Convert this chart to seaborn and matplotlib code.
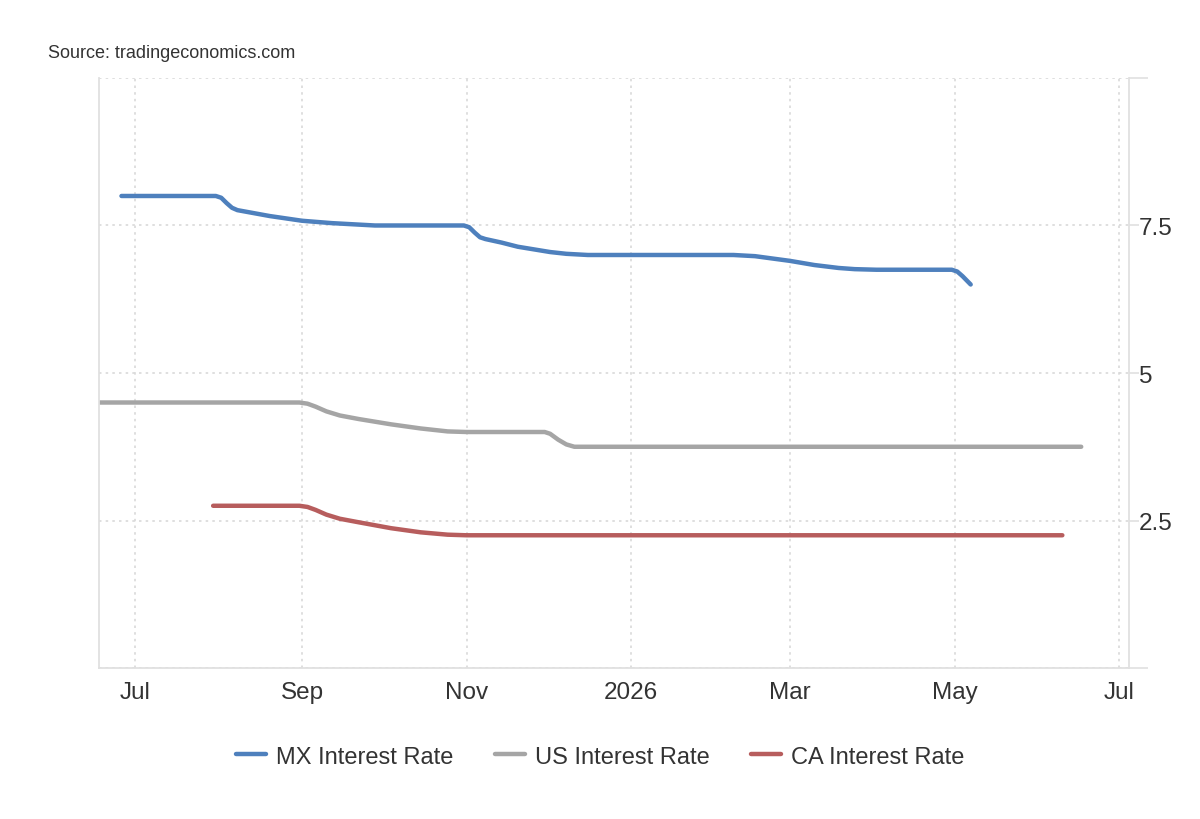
import matplotlib
matplotlib.use("Agg")
import matplotlib.pyplot as plt
import matplotlib.dates as mdates
from matplotlib.ticker import FixedLocator, FuncFormatter
import pandas as pd
import seaborn as sns

# values
mx_dates = ["2025-06-26", "2025-07-31", "2025-08-02", "2025-08-04", "2025-08-06",
            "2025-08-08", "2025-08-20", "2025-09-01", "2025-09-12", "2025-09-20",
            "2025-09-28", "2025-10-31", "2025-11-02", "2025-11-04", "2025-11-06",
            "2025-11-08", "2025-11-14", "2025-11-20", "2025-12-02", "2025-12-08",
            "2025-12-16", "2026-02-08", "2026-02-16", "2026-03-01", "2026-03-10",
            "2026-03-19", "2026-03-25", "2026-04-02", "2026-04-30", "2026-05-02",
            "2026-05-04", "2026-05-07"]
mx_values = [8.0, 8.0, 7.97, 7.88, 7.8,
             7.76, 7.66, 7.58, 7.54, 7.52,
             7.5, 7.5, 7.47, 7.38, 7.3,
             7.27, 7.21, 7.14, 7.05, 7.02,
             7.0, 7.0, 6.98, 6.9, 6.83,
             6.78, 6.76, 6.75, 6.75, 6.72,
             6.64, 6.5]

us_dates = ["2025-06-18", "2025-08-31", "2025-09-03", "2025-09-06", "2025-09-10",
            "2025-09-15", "2025-09-22", "2025-10-04", "2025-10-15", "2025-10-25",
            "2025-11-01", "2025-11-30", "2025-12-02", "2025-12-05", "2025-12-08",
            "2025-12-11", "2026-06-17"]
us_values = [4.5, 4.5, 4.48, 4.43, 4.35,
             4.28, 4.22, 4.13, 4.06, 4.01,
             4.0, 4.0, 3.97, 3.87, 3.79,
             3.75, 3.75]

ca_dates = ["2025-07-30", "2025-08-31", "2025-09-03", "2025-09-06", "2025-09-10",
            "2025-09-15", "2025-09-22", "2025-10-04", "2025-10-15", "2025-10-25",
            "2025-11-01", "2026-06-10"]
ca_values = [2.75, 2.75, 2.73, 2.68, 2.6,
             2.53, 2.47, 2.37, 2.3, 2.26,
             2.25, 2.25]

series_names = ["MX Interest Rate", "US Interest Rate", "CA Interest Rate"]
colors = ["#4e80bd", "#a5a5a5", "#b75d5d"]
y_ticks = [2.5, 5, 7.5]

frames = []
for name, d, v in zip(series_names, [mx_dates, us_dates, ca_dates],
                      [mx_values, us_values, ca_values]):
    frames.append(pd.DataFrame({"date": pd.to_datetime(d), "rate": v, "series": name}))
df = pd.concat(frames, ignore_index=True)

sns.set_theme(style="white")
plt.rcParams["font.family"] = ["Liberation Sans", "DejaVu Sans"]

fig = plt.figure(figsize=(12, 8.2), dpi=100)
ax = fig.add_axes([0.0825, 0.1841, 0.8583, 0.7196])

sns.lineplot(data=df, x="date", y="rate", hue="series", hue_order=series_names,
             palette=colors, estimator=None, sort=False, linewidth=3.2,
             solid_capstyle="round", solid_joinstyle="round", legend=False, ax=ax)

ax.set_xlim(pd.Timestamp("2025-06-17 16:00"), pd.Timestamp("2026-07-04 17:00"))
ax.set_ylim(0, 10)
ax.set_xlabel("")
ax.set_ylabel("")

# x axis: every other month, January shown as the year
ax.xaxis.set_major_locator(mdates.MonthLocator(bymonth=[1, 3, 5, 7, 9, 11]))
ax.xaxis.set_major_formatter(FuncFormatter(
    lambda x, pos: str(mdates.num2date(x).year) if mdates.num2date(x).month == 1
    else mdates.num2date(x).strftime("%b")))
ax.tick_params(axis="x", length=0, pad=9.5, labelsize=17.5, labelcolor="#333333")

# y axis on the right
ax.yaxis.tick_right()
ax.yaxis.set_major_locator(FixedLocator(y_ticks))
ax.yaxis.set_minor_locator(FixedLocator([0, 10]))
ax.yaxis.set_major_formatter(FuncFormatter(lambda v, pos: f"{v:g}"))
ax.tick_params(axis="y", which="major", length=7, width=1.2, color="#e0e0e0",
               pad=0, labelsize=17.5, labelcolor="#333333")
ax.tick_params(axis="y", which="minor", length=14, width=1.2, color="#e0e0e0")

grid_style = dict(color="#d9d9d9", linewidth=1.2, linestyle=(0, (1.5, 2.5)))
ax.grid(axis="x", which="major", **grid_style)
ax.grid(axis="y", which="both", **grid_style)

for side in ["left", "right", "bottom"]:
    ax.spines[side].set_visible(True)
    ax.spines[side].set_color("#e0e0e0")
    ax.spines[side].set_linewidth(1.3)
ax.spines["top"].set_visible(False)

fig.text(0.04, 0.935, "Source: tradingeconomics.com", fontsize=13,
         color="#333333", va="center", ha="left")

fig.legend(ax.lines[:3], series_names, loc="center", bbox_to_anchor=(0.5, 0.076),
           ncol=3, frameon=False, fontsize=17, handlelength=1.3,
           handletextpad=0.4, columnspacing=1.75, labelcolor="#333333")

fig.savefig("out.png", dpi=100)
